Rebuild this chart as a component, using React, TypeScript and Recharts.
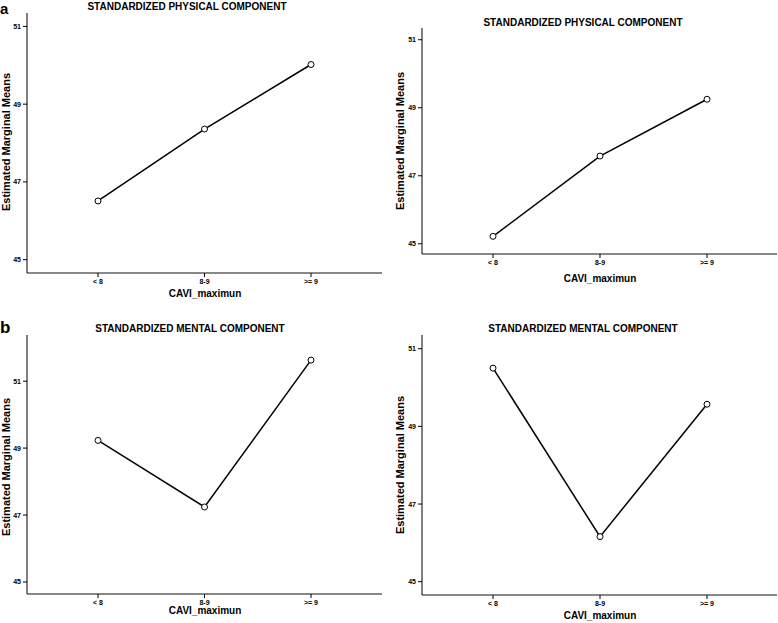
import { LineChart, Line, XAxis, YAxis } from 'recharts';

const categories = ['< 8', '8-9', '>= 9'];
const physicalLeft = [46.51, 48.36, 50.02];
const physicalRight = [45.22, 47.58, 49.25];
const mentalLeft = [49.23, 47.24, 51.63];
const mentalRight = [50.5, 46.16, 49.57];
const yTicks = [45, 47, 49, 51];

const toRows = (values: number[]) => categories.map((cat, i) => ({ cat, mean: values[i] }));

interface PanelProps {
  values: number[];
  left: number;
  top: number;
  width: number;
  height: number;
  margin: { top: number; right: number; bottom: number; left: number };
  domain: [number, number];
  xHeight: number;
  topColor: string;
  topWidth: number;
  pad: { left: number; right: number };
}

function Panel({ values, left, top, width, height, margin, domain, xHeight, topColor, topWidth, pad }: PanelProps) {
  return (
    <div style={{ position: 'absolute', left, top }}>
      <LineChart width={width} height={height} data={toRows(values)} margin={margin}>
        <XAxis
          dataKey="cat"
          height={xHeight}
          padding={pad}
          interval={0}
          axisLine={{ stroke: '#888', strokeWidth: 2 }}
          tickLine={{ stroke: '#000' }}
          tickSize={4}
          tickMargin={2}
          tick={{ fontSize: 7, fill: '#000', fontWeight: 700 }}
        />
        <XAxis
          xAxisId="top"
          orientation="top"
          dataKey="cat"
          height={0}
          padding={pad}
          tick={false}
          tickLine={false}
          axisLine={{ stroke: topColor, strokeWidth: topWidth }}
        />
        <YAxis
          type="number"
          domain={domain}
          ticks={yTicks}
          allowDataOverflow
          width={20}
          axisLine={{ stroke: '#000' }}
          tickLine={{ stroke: '#000' }}
          tickSize={4}
          tickMargin={2}
          tick={{ fontSize: 7, fill: '#000', fontWeight: 700 }}
        />
        <YAxis
          yAxisId="right"
          orientation="right"
          type="number"
          domain={domain}
          allowDataOverflow
          width={0}
          tick={false}
          tickLine={false}
          axisLine={{ stroke: '#000' }}
        />
        <Line
          dataKey="mean"
          stroke="#000"
          strokeWidth={1.5}
          dot={{ r: 3, fill: '#fff', stroke: '#000', strokeWidth: 1 }}
          isAnimationActive={false}
        />
      </LineChart>
    </div>
  );
}

const bold = { fontWeight: 700, fill: '#000' };

export default function App() {
  return (
    <div
      style={{
        position: 'absolute',
        left: 0,
        top: 0,
        width: 778,
        height: 623,
        background: '#fff',
        fontFamily: '"Liberation Sans", Arial, sans-serif',
        overflow: 'hidden',
      }}
    >
      <Panel
        values={physicalLeft}
        left={0}
        top={0}
        width={390}
        height={310}
        margin={{ top: 13, right: 8, bottom: 7, left: 7 }}
        domain={[44.657, 51.345]}
        xHeight={30}
        topColor="#000"
        topWidth={1}
        pad={{ left: 71, right: 71 }}
      />
      <Panel
        values={physicalRight}
        left={388}
        top={0}
        width={390}
        height={310}
        margin={{ top: 28, right: 1, bottom: 26, left: 14 }}
        domain={[44.7, 51.345]}
        xHeight={30}
        topColor="#888"
        topWidth={2}
        pad={{ left: 71, right: 70 }}
      />
      <Panel
        values={mentalLeft}
        left={0}
        top={310}
        width={390}
        height={313}
        margin={{ top: 25, right: 8, bottom: 7, left: 7 }}
        domain={[44.64, 52.38]}
        xHeight={22}
        topColor="#000"
        topWidth={1}
        pad={{ left: 71, right: 71 }}
      />
      <Panel
        values={mentalRight}
        left={388}
        top={310}
        width={390}
        height={313}
        margin={{ top: 25, right: 1, bottom: 6, left: 14 }}
        domain={[44.657, 51.353]}
        xHeight={22}
        topColor="#000"
        topWidth={1}
        pad={{ left: 71, right: 70 }}
      />
      <svg width={778} height={623} style={{ position: 'absolute', left: 0, top: 0, pointerEvents: 'none' }}>
        <text x={0} y={14} fontSize={15} {...bold}>a</text>
        <text x={0} y={333} fontSize={17} {...bold}>b</text>

        <text x={187} y={10} fontSize={10} textAnchor="middle" {...bold}>STANDARDIZED PHYSICAL COMPONENT</text>
        <text x={583} y={26} fontSize={10} textAnchor="middle" {...bold}>STANDARDIZED PHYSICAL COMPONENT</text>
        <text x={190} y={332} fontSize={10} textAnchor="middle" {...bold}>STANDARDIZED MENTAL COMPONENT</text>
        <text x={583} y={332} fontSize={10} textAnchor="middle" {...bold}>STANDARDIZED MENTAL COMPONENT</text>

        <text transform="translate(10,142) rotate(-90)" fontSize={11} textAnchor="middle" {...bold}>Estimated Marginal Means</text>
        <text transform="translate(404,141) rotate(-90)" fontSize={11} textAnchor="middle" {...bold}>Estimated Marginal Means</text>
        <text transform="translate(10,467) rotate(-90)" fontSize={11} textAnchor="middle" {...bold}>Estimated Marginal Means</text>
        <text transform="translate(404,465) rotate(-90)" fontSize={11} textAnchor="middle" {...bold}>Estimated Marginal Means</text>

        <text x={205} y={297} fontSize={10} textAnchor="middle" {...bold}>CAVI_maximun</text>
        <text x={600} y={282} fontSize={10} textAnchor="middle" {...bold}>CAVI_maximun</text>
        <text x={205} y={614} fontSize={10} textAnchor="middle" {...bold}>CAVI_maximun</text>
        <text x={600} y={619} fontSize={10} textAnchor="middle" {...bold}>CAVI_maximun</text>
      </svg>
    </div>
  );
}
